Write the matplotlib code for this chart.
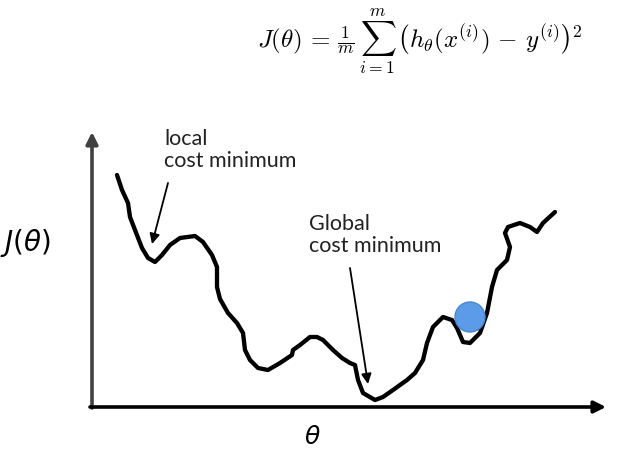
import matplotlib
matplotlib.use("Agg")
import matplotlib.pyplot as plt
from matplotlib.patches import Circle

# Cost curve (pixel-space coordinates, y downward)
curve_x = [117, 122, 128, 130, 135, 142, 148, 155, 162, 170, 180, 195, 203, 212, 217, 217,
           220, 228, 237, 243, 245, 250, 258, 268, 280, 292, 293, 300, 310, 317, 323, 333,
           342, 350, 355, 358, 363, 375, 383, 393, 407, 415, 423, 427, 433, 443, 452, 457,
           463, 470, 480, 487, 492, 497, 507, 510, 505, 508, 520, 530, 537, 543, 555]
curve_y = [175, 190, 203, 217, 230, 248, 258, 262, 255, 245, 238, 236, 242, 255, 267, 287,
           299, 313, 323, 333, 350, 360, 368, 370, 363, 355, 350, 345, 337, 337, 340, 350,
           358, 363, 365, 380, 393, 400, 397, 390, 380, 373, 360, 343, 327, 317, 320, 328,
           342, 343, 333, 313, 287, 270, 260, 247, 233, 227, 223, 227, 232, 223, 212]

ball = (470, 317)
formula = r"$J(\theta)\, =\, \frac{1}{m}\,\sum_{i=1}^{m}\,\left(h_\theta(x^{(i)})\, -\, y^{(i)}\right)^2$"
local_label = "local\ncost minimum"
global_label = "Global\ncost minimum"

fig = plt.figure(figsize=(6.24, 4.54), dpi=100)
ax = fig.add_axes([0, 0, 1, 1])
ax.set_xlim(0, 624)
ax.set_ylim(454, 0)
ax.axis("off")

# axes with arrows
ax.annotate("", xy=(92, 132), xytext=(92, 408),
            arrowprops=dict(arrowstyle="-|>,head_width=0.35,head_length=0.7", lw=2.6, color="#404040",
                            shrinkA=0, shrinkB=0))
ax.annotate("", xy=(606, 407), xytext=(90, 407),
            arrowprops=dict(arrowstyle="-|>,head_width=0.35,head_length=0.7", lw=2.6, color="black",
                            shrinkA=0, shrinkB=0))

ax.plot(curve_x, curve_y, color="black", lw=3.1, solid_joinstyle="round", solid_capstyle="round")

ax.add_patch(Circle(ball, 15, facecolor="#5b9be8", edgecolor="#4a86d0", lw=1, zorder=5))

# annotation arrows
ax.annotate("", xy=(152, 244), xytext=(168, 183),
            arrowprops=dict(arrowstyle="-|>,head_width=0.3,head_length=0.6", lw=1.3, color="black",
                            shrinkA=0, shrinkB=0))
ax.annotate("", xy=(368, 384), xytext=(350, 268),
            arrowprops=dict(arrowstyle="-|>,head_width=0.3,head_length=0.6", lw=1.3, color="black",
                            shrinkA=0, shrinkB=0))

ax.text(164, 150, local_label, fontsize=15.5, family="Lato", color="#222222",
        ha="left", va="center", linespacing=1.1)
ax.text(309, 235, global_label, fontsize=15.5, family="Lato", color="#222222",
        ha="left", va="center", linespacing=1.1)

plt.rcParams["mathtext.fontset"] = "cm"
ax.text(420, 42, formula, fontsize=18, ha="center", va="center")
ax.text(25, 243, r"$J(\theta)$", fontsize=20, ha="center", va="center",
        math_fontfamily="dejavusans")
ax.text(312, 437, r"$\theta$", fontsize=18, ha="center", va="center",
        math_fontfamily="dejavusans")

fig.savefig("out.png", dpi=100)
